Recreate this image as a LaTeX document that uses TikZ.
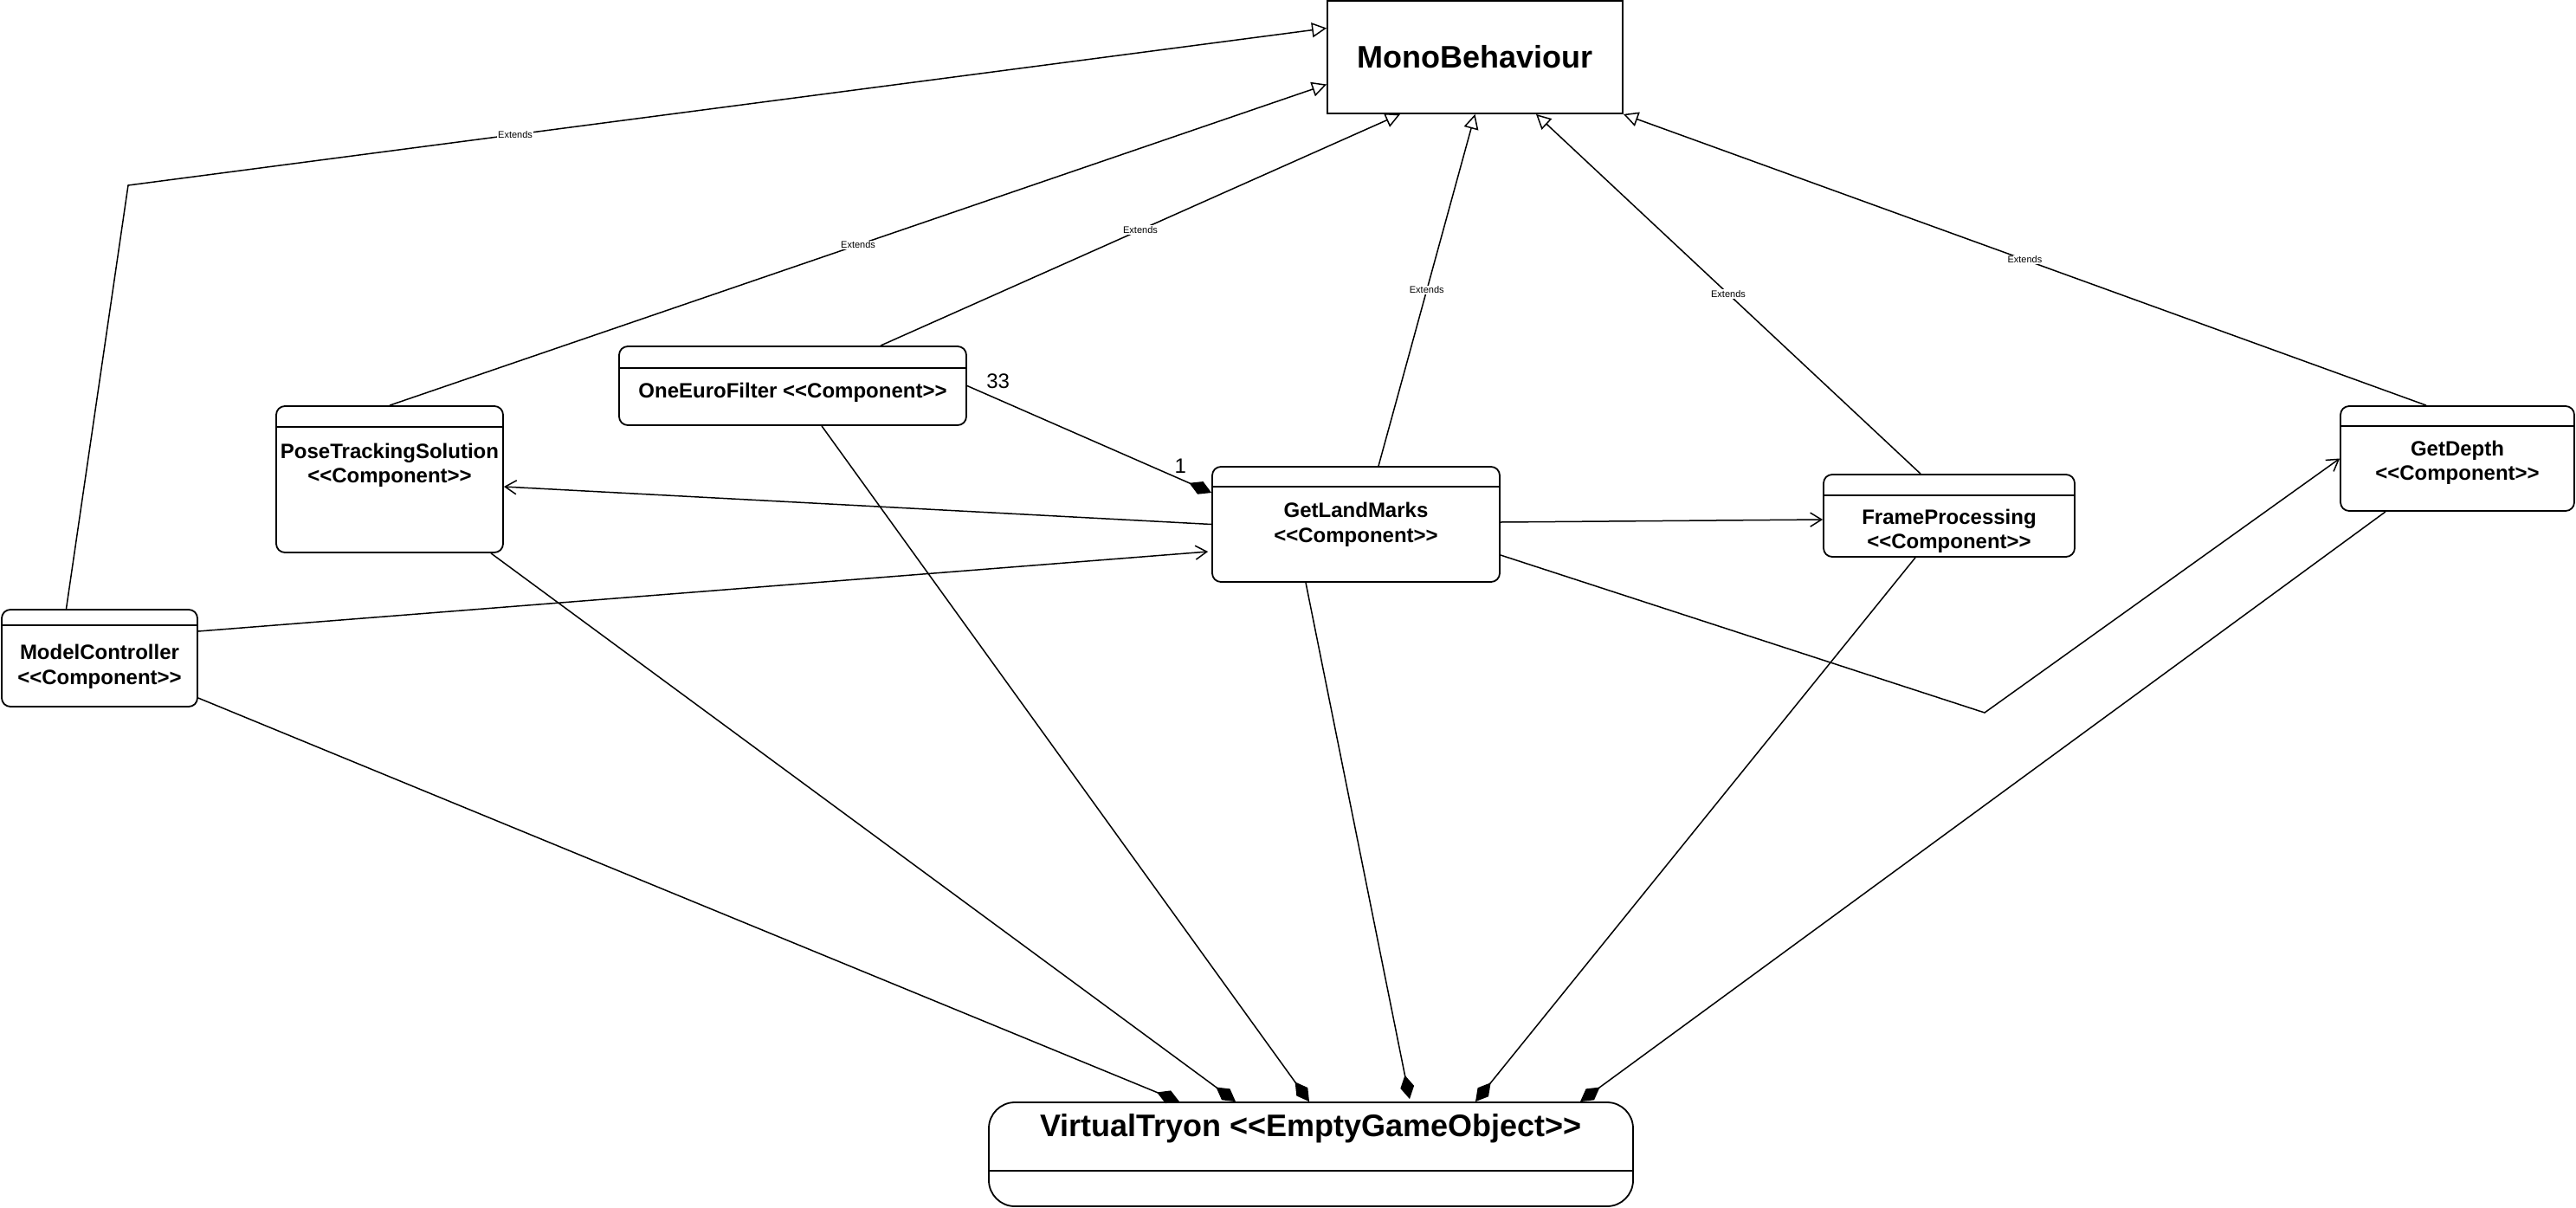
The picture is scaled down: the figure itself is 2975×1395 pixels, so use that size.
\documentclass[tikz,border=0pt]{standalone}
\usepackage{fontspec}
\setmainfont{Liberation Sans}
\usetikzlibrary{positioning,shapes,arrows.meta}
\newcommand*{\stereotype}[1]{<\kern0pt<#1>\kern0pt>}

\begin{document}
\begin{tikzpicture}[x=1pt, y=-1pt]
	\tikzstyle{component}=[rectangle, draw=black, line width=1.8pt, rounded corners=10pt, fill=white, inner sep=0pt]
	\tikzstyle{boxtext}=[font=\fontsize{24}{28.5}\selectfont\bfseries, align=center, inner sep=0pt]
	\tikzstyle{line}=[line width=1.5pt]
	\tikzstyle{extends}=[line, -{Triangle[open, length=17pt, width=17pt]}]
	\tikzstyle{uses}=[line, -{Straight Barb[length=13pt, width=16pt]}]
	\tikzstyle{owns}=[line, -{Diamond[length=28pt, width=16pt]}]
	\tikzstyle{tag}=[midway, fill=white, font=\fontsize{11}{13}\selectfont, inner sep=1pt]
	\tikzstyle{mult}=[font=\fontsize{24}{28}\selectfont, inner sep=0pt]
	\useasboundingbox (0,0) rectangle (2975,1395);

	\node (MonoBehaviour) [component, rounded corners=0pt, minimum width=341pt, minimum height=130pt,
	font=\fontsize{36}{43}\selectfont\bfseries] at (1703.5,66) {MonoBehaviour};

	\node (OneEuroFilter) [component, minimum width=401pt, minimum height=91pt] at (915.5,445.5) {};
	\draw[line] ([yshift=-26pt]OneEuroFilter.north west) -- ([yshift=-26pt]OneEuroFilter.north east);
	\node (OneEuroFilterText) [boxtext] at ([yshift=-54pt]OneEuroFilter.north) {OneEuroFilter \stereotype{Component}};

	\node (PoseTracking) [component, minimum width=262pt, minimum height=169pt] at (450,553.5) {};
	\draw[line] ([yshift=-25pt]PoseTracking.north west) -- ([yshift=-25pt]PoseTracking.north east);
	\node (PoseTrackingText) [boxtext] at ([yshift=-69pt]PoseTracking.north) {PoseTrackingSolution\\\stereotype{Component}};

	\node (GetLandMarks) [component, minimum width=332pt, minimum height=133pt] at (1566,605.5) {};
	\draw[line] ([yshift=-24pt]GetLandMarks.north west) -- ([yshift=-24pt]GetLandMarks.north east);
	\node (GetLandMarksText) [boxtext] at ([yshift=-67.5pt]GetLandMarks.north) {GetLandMarks\\\stereotype{Component}};

	\node (FrameProcessing) [component, minimum width=290pt, minimum height=95pt] at (2251,595.5) {};
	\draw[line] ([yshift=-25pt]FrameProcessing.north west) -- ([yshift=-25pt]FrameProcessing.north east);
	\node (FrameProcessingText) [boxtext] at ([yshift=-66pt]FrameProcessing.north) {FrameProcessing\\\stereotype{Component}};

	\node (GetDepth) [component, minimum width=270pt, minimum height=121pt] at (2838,529.5) {};
	\draw[line] ([yshift=-24pt]GetDepth.north west) -- ([yshift=-24pt]GetDepth.north east);
	\node (GetDepthText) [boxtext] at ([yshift=-66pt]GetDepth.north) {GetDepth\\\stereotype{Component}};

	\node (ModelController) [component, minimum width=226pt, minimum height=112pt] at (115,760) {};
	\draw[line] ([yshift=-19pt]ModelController.north west) -- ([yshift=-19pt]ModelController.north east);
	\node (ModelControllerText) [boxtext] at ([yshift=-66.5pt]ModelController.north) {ModelController\\\stereotype{Component}};

	\node (VirtualTryon) [component, rounded corners=30pt, minimum width=744pt, minimum height=120pt] at (1514,1333) {};
	\draw[line] ([yshift=-80pt]VirtualTryon.north west) -- ([yshift=-80pt]VirtualTryon.north east);
	\node (VirtualTryonText) [boxtext, font=\fontsize{36}{43}\selectfont\bfseries] at ([yshift=-31pt]VirtualTryon.north) {VirtualTryon \stereotype{EmptyGameObject}};

	\coordinate (ModelBend) at (148,214);
	\coordinate (DepthBend) at (2292,823);

	\draw[extends] ([xshift=-38.5pt]ModelController.north) -- (ModelBend) -- node[tag, pos=0.323] {Extends} ([yshift=33.5pt]MonoBehaviour.west);
	\draw[extends] (PoseTracking.north) -- node[tag] {Extends} ([yshift=-31.5pt]MonoBehaviour.west);
	\draw[extends] ([xshift=101.5pt]OneEuroFilter.north) -- node[tag] {Extends} ([xshift=-86.5pt]MonoBehaviour.south);
	\draw[extends] ([xshift=26pt]GetLandMarks.north) -- node[tag] {Extends} (MonoBehaviour.south);
	\draw[extends] ([xshift=-33pt]FrameProcessing.north) -- node[tag] {Extends} ([xshift=70.5pt]MonoBehaviour.south);
	\draw[extends] ([xshift=-36pt]GetDepth.north) -- node[tag] {Extends} (MonoBehaviour.south east);

	\draw[owns] (OneEuroFilter.east) -- node[mult, pos=0.127, yshift=21pt] {33} node[mult, pos=0.873, yshift=15pt] {1} ([yshift=36.5pt]GetLandMarks.west);
	\draw[uses] (GetLandMarks.west) -- ([yshift=-8.5pt]PoseTracking.east);
	\draw[uses] ([yshift=31pt]ModelController.east) -- ([xshift=-4pt,yshift=-31.5pt]GetLandMarks.west);
	\draw[uses] ([yshift=2.5pt]GetLandMarks.east) -- ([yshift=-4.5pt]FrameProcessing.west);
	\draw[uses] ([yshift=-35.5pt]GetLandMarks.east) -- (DepthBend) -- (GetDepth.west);

	\draw[owns] ([yshift=-46pt]ModelController.east) -- ([xshift=-152pt]VirtualTryon.north);
	\draw[owns] ([xshift=117pt]PoseTracking.south) -- ([xshift=-87pt]VirtualTryon.north);
	\draw[owns] ([xshift=33.5pt]OneEuroFilter.south) -- ([xshift=-2pt]VirtualTryon.north);
	\draw[owns] ([xshift=-58pt]GetLandMarks.south) -- ([xshift=114pt,yshift=3pt]VirtualTryon.north);
	\draw[owns] ([xshift=-39pt]FrameProcessing.south) -- ([xshift=190pt]VirtualTryon.north);
	\draw[owns] ([xshift=-83pt]GetDepth.south) -- ([xshift=311pt]VirtualTryon.north);
\end{tikzpicture}
\end{document}
